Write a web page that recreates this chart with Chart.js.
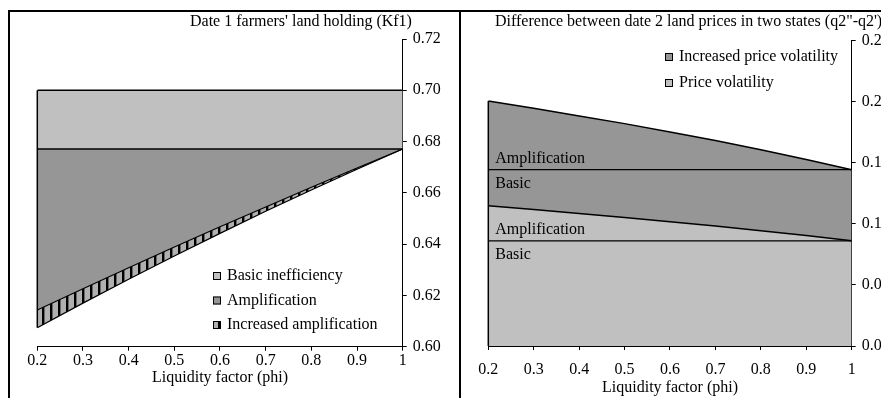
<!DOCTYPE html>
<html><head><meta charset="utf-8">
<script src="https://cdn.jsdelivr.net/npm/chart.js@4.4.1/dist/chart.umd.min.js"></script>
<style>
html,body{margin:0;padding:0;background:#fff;overflow:hidden;width:881px;height:398px;position:relative}
.frame{position:absolute;background:#fff;border-left:2px solid #000;border-top:2px solid #000}
canvas{display:block}
</style></head><body>
<div class="frame" style="left:8px;top:10px;z-index:1"><canvas id="c1" width="460" height="400" style="width:460px;height:400px"></canvas></div>
<div class="frame" style="left:459px;top:10px;z-index:2"><canvas id="c2" width="460" height="400" style="width:460px;height:400px"></canvas></div>
<script>
// ---- data ----
const phi = [0.2, 0.3, 0.4, 0.5, 0.6, 0.7, 0.8, 0.9, 1.0];
// Left: Date 1 farmers' land holding (Kf1)
const kfTop       = [0.700, 0.700, 0.700, 0.700, 0.700, 0.700, 0.700, 0.700, 0.700];
const kfBasic     = [0.6771, 0.6771, 0.6771, 0.6771, 0.6771, 0.6771, 0.6771, 0.6771, 0.6771];
const kfAmplified = [0.6143, 0.6226, 0.6308, 0.6389, 0.6468, 0.6545, 0.6622, 0.6697, 0.6771];
const kfIncreased = [0.6074, 0.6170, 0.6263, 0.6354, 0.6442, 0.6528, 0.6611, 0.6692, 0.6771];
const leftLabels  = ['Basic inefficiency', 'Amplification', 'Increased amplification'];
const leftTitle   = "Date 1 farmers' land holding (Kf1)";
// Right: Difference between date 2 land prices in two states
const volLow      = [0.1148, 0.1117, 0.1085, 0.1052, 0.1018, 0.0982, 0.0944, 0.0904, 0.0861];
const volHigh     = [0.2006, 0.1946, 0.1884, 0.1821, 0.1753, 0.1682, 0.1607, 0.1528, 0.1444];
const volLowBasic = [0.0861, 0.0861, 0.0861, 0.0861, 0.0861, 0.0861, 0.0861, 0.0861, 0.0861];
const volHighBasic= [0.1444, 0.1444, 0.1444, 0.1444, 0.1444, 0.1444, 0.1444, 0.1444, 0.1444];
const rightLabels = ['Increased price volatility', 'Price volatility'];
const bandLabels  = ['Amplification', 'Basic'];
const rightTitle  = 'Difference between date 2 land prices in two states (q2"-q2\')';
const xTitle      = 'Liquidity factor (phi)';

// ---- styling ----
const FONT = "'Liberation Serif', 'Times New Roman', serif";
Chart.defaults.font.family = FONT;
Chart.defaults.font.size = 16;
Chart.defaults.color = '#000';
const LIGHT = '#C0C0C0', DARK = '#969696';

function hatch() {
  const c = document.createElement('canvas'); c.width = 8; c.height = 8;
  const g = c.getContext('2d');
  g.fillStyle = '#B0B0B0'; g.fillRect(0, 0, 8, 8);
  g.fillStyle = '#000'; g.fillRect(0, 0, 2, 8);
  g.fillStyle = '#666'; g.fillRect(2, 0, 1, 8);
  return g.createPattern(c, 'repeat');
}
const pts = arr => phi.map((x, i) => ({x, y: arr[i]}));

function xScale(tickPad, titlePadBottom, height) {
  return {
    type: 'linear', min: 0.2, max: 1,
    afterFit: s => { s.height = height; },
    ticks: {stepSize: 0.1, padding: tickPad, maxRotation: 0, autoSkip: false,
            callback: v => String(+(+v).toFixed(1))},
    grid: {drawOnChartArea: false, drawTicks: true, tickLength: 4, color: '#000'},
    border: {display: true, color: '#000', width: 1},
    title: {display: true, text: xTitle, padding: {top: 0, bottom: titlePadBottom}}
  };
}
function yScale(min, max, step, width) {
  return {
    type: 'linear', position: 'right', min, max,
    afterFit: s => { s.width = width; },
    ticks: {stepSize: step, padding: 6, callback: v => (+v).toFixed(2)},
    grid: {drawOnChartArea: false, drawTicks: true, tickLength: 4, color: '#000'},
    border: {display: true, color: '#000', width: 1}
  };
}
function drawLegend(ctx, items, x, y0, dy) {
  ctx.save();
  ctx.font = '16px ' + FONT; ctx.textBaseline = 'middle'; ctx.textAlign = 'left'; ctx.fillStyle = '#000';
  items.forEach((it, k) => {
    const y = y0 + k * dy;
    ctx.fillStyle = it.fill; ctx.fillRect(x, y - 4, 8, 8);
    ctx.strokeStyle = '#000'; ctx.lineWidth = 1; ctx.strokeRect(x + 0.5, y - 3.5, 7, 7);
    ctx.fillStyle = '#000'; ctx.fillText(it.label, x + 14, y);
  });
  ctx.restore();
}
function edge(chart, xv, from, to) {
  const ctx = chart.ctx, xs = chart.scales.x, ys = chart.scales.y;
  const x = xs.getPixelForValue(xv);
  ctx.save(); ctx.strokeStyle = '#000'; ctx.lineWidth = 1.5;
  ctx.beginPath(); ctx.moveTo(x, ys.getPixelForValue(from)); ctx.lineTo(x, ys.getPixelForValue(to)); ctx.stroke();
  ctx.restore();
}
function title(ctx, text, x, y) {
  ctx.save(); ctx.font = '16px ' + FONT; ctx.fillStyle = '#000';
  ctx.textBaseline = 'middle'; ctx.textAlign = 'left'; ctx.fillText(text, x, y); ctx.restore();
}
const lineDs = (label, arr, bg, fill, bw) => ({
  label, data: pts(arr), backgroundColor: bg, borderColor: '#000', borderWidth: bw,
  fill, pointRadius: 0, tension: 0
});

// ---- left chart ----
const hp = hatch();
new Chart(document.getElementById('c1'), {
  type: 'line',
  data: {datasets: [
    lineDs(leftLabels[2], kfIncreased, hp, 1, 1.2),
    lineDs(leftLabels[1], kfAmplified, DARK, 2, 1.2),
    lineDs(leftLabels[0], kfBasic, LIGHT, 3, 1.5),
    lineDs('top', kfTop, 'transparent', false, 1.5)
  ]},
  options: {
    responsive: false, animation: false,
    layout: {padding: {left: 27.3, top: 27, right: 0, bottom: 0}},
    plugins: {legend: {display: false}, tooltip: {enabled: false}, filler: {drawTime: 'beforeDatasetsDraw'}},
    scales: {x: xScale(0, 25, 65.3), y: yScale(0.60, 0.72, 0.02, 67.3)}
  },
  plugins: [{
    id: 'decorL',
    afterDatasetsDraw(chart) { edge(chart, phi[0], kfIncreased[0], kfTop[0]); },
    afterDraw(chart) {
      const ctx = chart.ctx;
      title(ctx, leftTitle, 180, 10);
      drawLegend(ctx, [
        {label: leftLabels[0], fill: LIGHT},
        {label: leftLabels[1], fill: DARK},
        {label: leftLabels[2], fill: hp}
      ], 203, 264, 24.5);
    }
  }]
});

// ---- right chart ----
new Chart(document.getElementById('c2'), {
  type: 'line',
  data: {datasets: [
    lineDs(rightLabels[1], volLow, LIGHT, 'origin', 1.5),
    lineDs(rightLabels[0], volHigh, DARK, 0, 1.5),
    lineDs('basic low', volLowBasic, 'transparent', false, 1.2),
    lineDs('basic high', volHighBasic, 'transparent', false, 1.2)
  ]},
  options: {
    responsive: false, animation: false,
    layout: {padding: {left: 27.3, top: 28.7, right: 0, bottom: 0}},
    plugins: {legend: {display: false}, tooltip: {enabled: false}, filler: {drawTime: 'beforeDatasetsDraw'}},
    scales: {x: xScale(10, 14.5, 66), y: yScale(0, 0.25, 0.05, 69.3)}
  },
  plugins: [{
    id: 'decorR',
    afterDatasetsDraw(chart) {
      edge(chart, phi[0], 0, volHigh[0]);
      const ctx = chart.ctx, ys = chart.scales.y, left = chart.chartArea.left + 7;
      ctx.save(); ctx.font = '16px ' + FONT; ctx.fillStyle = '#000';
      ctx.textBaseline = 'middle'; ctx.textAlign = 'left';
      [volLowBasic[0], volHighBasic[0]].forEach(v => {
        const y = ys.getPixelForValue(v);
        ctx.fillText(bandLabels[0], left, y - 11);
        ctx.fillText(bandLabels[1], left, y + 14);
      });
      ctx.restore();
    },
    afterDraw(chart) {
      const ctx = chart.ctx;
      title(ctx, rightTitle, 34, 10);
      drawLegend(ctx, [
        {label: rightLabels[0], fill: DARK},
        {label: rightLabels[1], fill: LIGHT}
      ], 204, 45, 26);
    }
  }]
});
</script>
</body></html>
